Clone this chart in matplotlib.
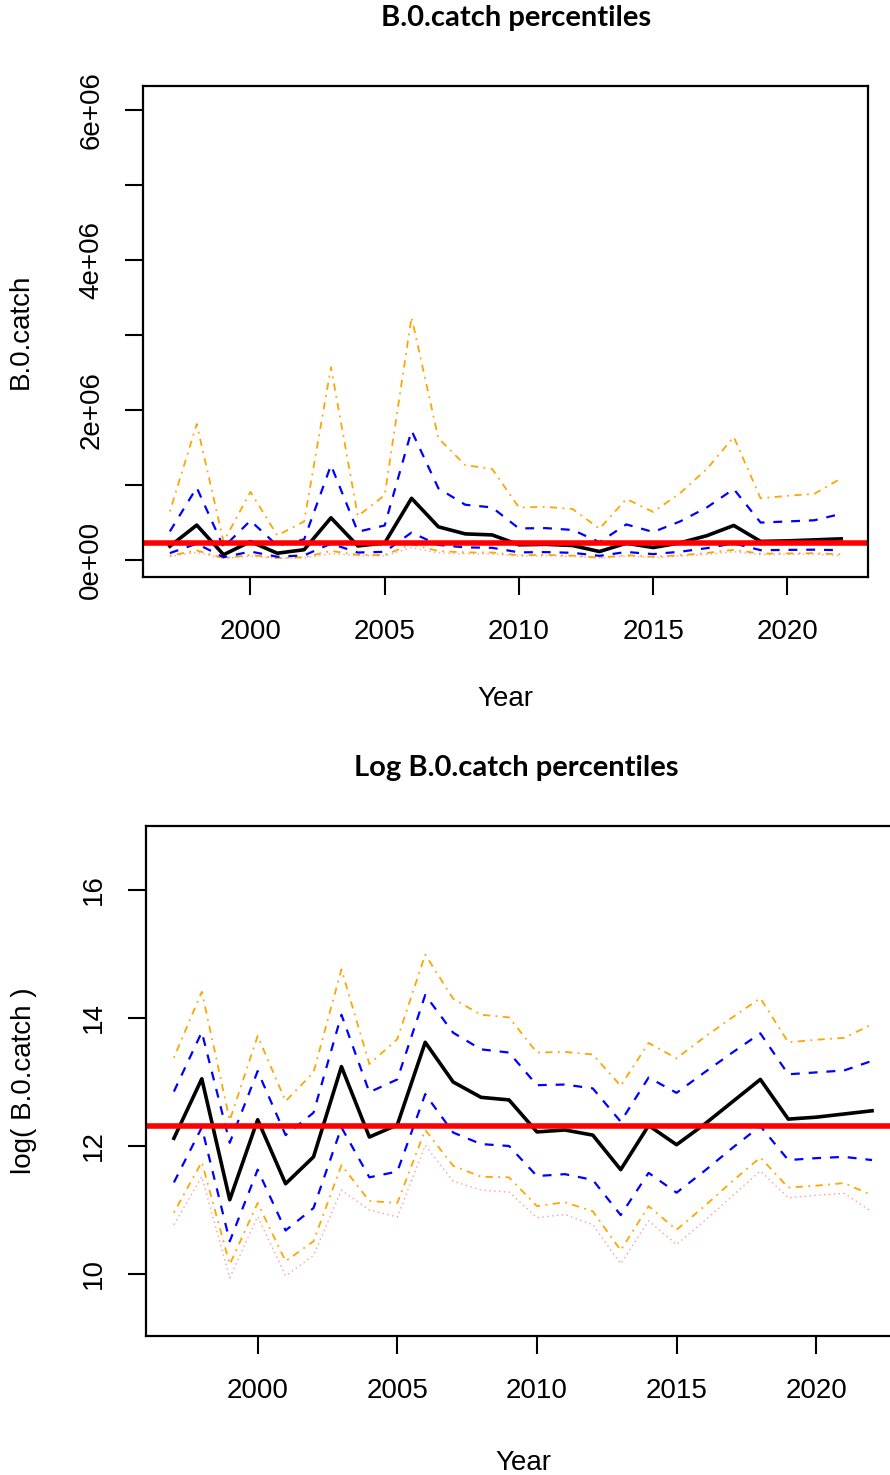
import numpy as np
import matplotlib
matplotlib.use("Agg")
import matplotlib.pyplot as plt

plt.rcParams['font.family'] = ['Liberation Sans', 'DejaVu Sans']

years = list(range(1997, 2023))

# percentiles of log(B.0.catch) by year
log_p025 = [10.77, 11.52, 9.94, 10.90, 9.97, 10.29, 11.31, 11.00, 10.89, 12.01, 11.45, 11.31, 11.28,
            10.88, 10.93, 10.77, 10.16, 10.83, 10.46, 10.83, 11.22, 11.61, 11.19, 11.23, 11.26, 10.97]
log_p05 = [10.96, 11.75, 10.15, 11.11, 10.20, 10.51, 11.70, 11.14, 11.11, 12.25, 11.69, 11.52, 11.51,
           11.06, 11.12, 10.98, 10.37, 11.06, 10.69, 11.06, 11.45, 11.82, 11.35, 11.38, 11.42, 11.23]
log_p25 = [11.43, 12.29, 10.51, 11.63, 10.68, 11.03, 12.29, 11.51, 11.60, 12.81, 12.21, 12.03, 12.00,
           11.53, 11.56, 11.47, 10.92, 11.58, 11.27, 11.61, 11.97, 12.31, 11.78, 11.81, 11.83, 11.78]
log_p50 = [12.12, 13.05, 11.16, 12.41, 11.41, 11.83, 13.24, 12.14, 12.33, 13.62, 13.00, 12.76, 12.72,
           12.22, 12.25, 12.17, 11.63, 12.32, 12.02, 12.34, 12.69, 13.04, 12.42, 12.45, 12.50, 12.55]
log_p75 = [12.85, 13.78, 12.05, 13.17, 12.17, 12.52, 14.05, 12.84, 13.04, 14.36, 13.77, 13.51, 13.46,
           12.95, 12.96, 12.90, 12.38, 13.07, 12.83, 13.15, 13.46, 13.76, 13.12, 13.15, 13.18, 13.33]
log_p95 = [13.38, 14.41, 12.40, 13.72, 12.70, 13.15, 14.76, 13.28, 13.67, 14.99, 14.30, 14.05, 14.01,
           13.46, 13.47, 13.43, 12.94, 13.61, 13.37, 13.70, 14.01, 14.31, 13.62, 13.66, 13.69, 13.90]

ref_catch = 2.22e5

x_ticks = [2000, 2005, 2010, 2015, 2020]
top_ticks = [0, 1e6, 2e6, 3e6, 4e6, 5e6, 6e6]
top_tick_labels = ['0e+00', '', '2e+06', '', '4e+06', '', '6e+06']
log_ticks = [10, 12, 14, 16]

fig = plt.figure(figsize=(8.9, 14.75), dpi=100)
ax1 = fig.add_axes([0.1607, 0.6088, 0.8146, 0.3329])
ax2 = fig.add_axes([0.1640, 0.0942, 0.8472, 0.3458])


def draw(ax, tf):
    ax.plot(years, tf(log_p025), color='#ff9a9a', lw=1.0, ls=(0, (1, 2.5)))
    ax.plot(years, tf(log_p05), color='orange', lw=1.3, ls=(0, (1, 3, 4, 3)))
    ax.plot(years, tf(log_p95), color='orange', lw=1.3, ls=(0, (1, 3, 4, 3)))
    ax.plot(years, tf(log_p25), color='blue', lw=1.6, ls=(0, (4, 4)))
    ax.plot(years, tf(log_p75), color='blue', lw=1.6, ls=(0, (4, 4)))
    ax.plot(years, tf(log_p50), color='black', lw=2.6)


draw(ax1, np.exp)
ax1.axhline(ref_catch, color='red', lw=4)
draw(ax2, np.asarray)
ax2.axhline(np.log(ref_catch), color='red', lw=4)

ax1.set_xlim(1996, 2023)
ax1.set_ylim(-0.227e6, 6.32e6)
ax1.set_yticks(top_ticks)
ax1.set_yticklabels(top_tick_labels, rotation=90, va='center')
ax1.set_ylabel('B.0.catch', fontsize=20, labelpad=32)

ax2.set_xlim(1996, 2023)
ax2.set_ylim(9.03, 17.0)
ax2.set_yticks(log_ticks)
ax2.set_yticklabels([str(t) for t in log_ticks], rotation=90, va='center')
ax2.set_ylabel('log( B.0.catch )', fontsize=20, labelpad=32)

for ax in (ax1, ax2):
    ax.set_xticks(x_ticks)
    ax.tick_params(labelsize=20, length=13, width=1.5, direction='out')
    ax.tick_params(axis='x', pad=17)
    ax.tick_params(axis='y', pad=15)
    for s in ax.spines.values():
        s.set_linewidth(1.6)
ax1.set_xlabel('Year', fontsize=20, labelpad=30)
ax2.set_xlabel('Year', fontsize=20, labelpad=33)

fig.text(516 / 890, 1 - 18 / 1475, 'B.0.catch percentiles', ha='center', va='center',
         fontsize=21, fontweight='bold', family=['Lato', 'DejaVu Sans'])
fig.text(516 / 890, 1 - 768 / 1475, 'Log B.0.catch percentiles', ha='center', va='center',
         fontsize=21, fontweight='bold', family=['Lato', 'DejaVu Sans'])

fig.savefig('out.png', dpi=100)
